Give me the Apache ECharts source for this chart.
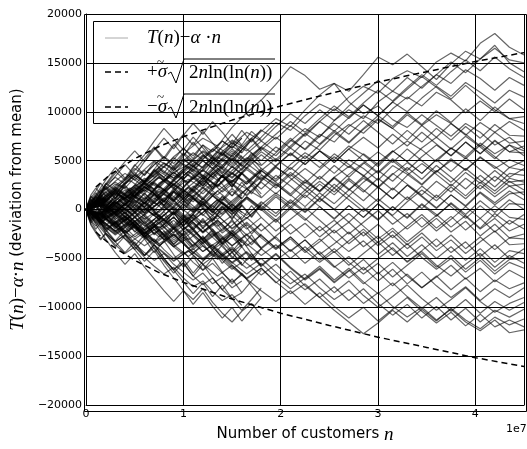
<!DOCTYPE html>
<html>
<head>
<meta charset="utf-8">
<script src="https://cdn.jsdelivr.net/npm/echarts@6/dist/echarts.min.js"></script>
<style>
  html, body { margin: 0; padding: 0; background: #fff; }
  #chart { width: 527px; height: 449px; }
</style>
</head>
<body>
<div id="chart"></div>
<script>
// n in units of 1e7 customers
const nLong = [0, 0.15, 0.3, 0.45, 0.6, 0.75, 0.9, 1.05, 1.2, 1.35, 1.5, 1.65, 1.8, 1.95, 2.1, 2.25,
  2.4, 2.55, 2.7, 2.85, 3.0, 3.15, 3.3, 3.45, 3.6, 3.75, 3.9, 4.05, 4.2, 4.35, 4.5]
const nShort = [0, 0.1, 0.2, 0.3, 0.4, 0.5, 0.6, 0.7, 0.8, 0.9, 1.0, 1.1, 1.2, 1.3, 1.4, 1.5, 1.6, 1.7, 1.8]
const nEarly = [0, 0.02, 0.05, 0.1, 0.15, 0.2, 0.3, 0.4, 0.5, 0.6, 0.7, 0.8, 0.9, 1.0, 1.1, 1.2, 1.3, 1.4, 1.5, 1.6]

// walk values in thousands
const longWalks = [
  [0, 1.2, 0.5, 2.1, 3.0, 2.2, 3.8, 4.6, 3.9, 5.5, 6.8, 6.0, 7.4, 8.9, 8.1, 9.6, 10.8, 10.1, 11.5, 12.6, 11.9, 13.4, 14.2, 13.5, 15.1, 16.0, 15.2, 17.0, 18.0, 16.6, 15.8],
  [0, -0.8, 0.6, 1.5, 0.9, 2.7, 3.5, 2.8, 4.4, 5.9, 5.1, 6.6, 8.0, 9.3, 8.5, 10.2, 11.7, 12.9, 12.1, 13.8, 15.6, 14.8, 15.9, 14.6, 13.3, 14.9, 16.2, 15.4, 16.8, 15.0, 14.1],
  [0, 1.4, 2.6, 1.9, 3.7, 5.0, 4.2, 6.1, 7.3, 6.5, 8.4, 9.9, 11.2, 12.8, 14.6, 13.7, 12.3, 12.9, 11.0, 9.8, 10.6, 9.2, 8.4, 9.7, 8.6, 7.5, 8.8, 7.9, 6.6, 7.4, 6.2],
  [0, 0.7, -0.4, 1.2, 2.0, 1.1, 2.6, 3.9, 3.1, 4.5, 3.6, 5.2, 6.4, 5.5, 7.0, 8.3, 7.4, 9.1, 10.2, 9.3, 11.0, 12.1, 11.3, 12.6, 13.8, 12.9, 14.3, 13.4, 12.2, 13.5, 12.7],
  [0, -1.0, -0.2, 0.9, -0.1, 1.6, 2.5, 1.7, 3.3, 2.4, 4.0, 5.3, 4.5, 5.8, 7.1, 6.2, 7.7, 6.9, 8.5, 9.6, 8.8, 10.3, 11.5, 10.6, 12.0, 11.2, 9.9, 11.1, 10.0, 11.3, 10.2],
  [0, 1.1, 0.3, 1.8, 3.2, 2.3, 4.0, 5.2, 4.3, 6.0, 7.1, 6.2, 5.0, 6.4, 5.5, 7.0, 6.1, 7.6, 8.7, 7.8, 9.2, 8.3, 7.1, 8.6, 9.7, 8.8, 7.6, 8.9, 7.9, 9.0, 8.1],
  [0, -0.6, 0.8, -0.3, 1.2, 0.4, 2.0, 3.1, 2.2, 3.6, 2.7, 1.5, 2.9, 4.3, 3.4, 4.9, 6.0, 5.1, 6.5, 5.6, 4.4, 5.9, 7.0, 6.1, 4.9, 6.3, 5.4, 6.8, 5.7, 6.6, 5.5],
  [0, 0.9, 2.0, 1.2, 2.8, 3.9, 3.0, 4.4, 3.5, 2.3, 3.7, 2.8, 4.2, 3.1, 4.6, 5.8, 4.9, 3.7, 5.1, 4.2, 3.0, 4.5, 3.6, 2.5, 3.9, 5.0, 4.1, 5.3, 4.4, 3.3, 4.2],
  [0, -1.2, -0.3, -1.6, -0.5, 0.8, -0.1, 1.4, 0.5, 1.9, 3.0, 2.1, 3.5, 2.6, 1.4, 2.8, 1.9, 3.3, 4.4, 3.5, 2.3, 3.7, 2.6, 1.5, 2.9, 1.8, 3.2, 2.1, 3.4, 2.4, 2.6],
  [0, 0.5, 1.7, 0.8, 2.3, 1.4, 0.2, 1.6, 0.7, -0.5, 0.9, 2.1, 1.2, 2.6, 1.5, 0.3, 1.7, 0.6, 2.0, 3.2, 2.3, 1.1, 2.5, 1.4, 0.2, 1.5, 0.4, 1.8, 0.7, 1.9, 1.0],
  [0, -0.7, 0.5, 1.6, 0.6, -0.6, 0.7, -0.4, -1.7, -0.6, -2.0, -0.9, 0.4, -0.7, 0.8, -0.3, 1.1, 0.0, -1.3, 0.1, -1.1, 0.3, -0.8, 0.6, -0.5, -1.8, -0.6, -1.9, -0.4, -1.5, -0.5],
  [0, 1.0, -0.1, 1.3, 0.2, -1.0, 0.3, -0.9, 0.5, -0.6, -1.9, -0.8, -2.2, -1.0, -2.5, -1.4, -2.8, -1.6, -0.4, -1.7, -3.0, -1.9, -3.3, -2.1, -0.9, -2.3, -1.2, -2.7, -1.5, -2.9, -2.5],
  [0, -1.1, -2.2, -1.3, -2.8, -1.7, -3.1, -2.0, -3.5, -2.4, -1.2, -2.6, -1.5, -3.0, -4.2, -3.1, -4.6, -3.5, -2.3, -3.8, -2.7, -4.1, -5.3, -4.2, -3.0, -4.4, -3.3, -4.8, -3.6, -5.0, -4.0],
  [0, 0.6, -0.5, -1.8, -0.7, -2.1, -3.3, -2.2, -3.7, -4.9, -3.8, -5.2, -4.0, -2.8, -4.3, -3.1, -4.6, -5.9, -4.8, -6.2, -5.0, -3.9, -5.4, -4.3, -5.7, -6.8, -5.6, -4.5, -5.9, -4.7, -5.5],
  [0, -0.9, 0.2, -1.1, -2.4, -1.3, -2.7, -1.6, -3.1, -4.3, -5.5, -4.4, -5.8, -4.6, -6.0, -7.2, -6.1, -7.5, -6.3, -5.1, -6.6, -5.4, -6.8, -8.0, -6.9, -5.7, -7.1, -6.0, -7.4, -6.2, -7.0],
  [0, -1.3, -0.4, -1.8, -3.0, -2.1, -3.6, -4.8, -3.7, -5.1, -4.0, -5.5, -6.7, -5.6, -7.0, -8.2, -7.1, -8.5, -7.3, -8.8, -10.0, -8.9, -7.7, -9.1, -10.3, -9.2, -8.0, -9.4, -10.5, -9.6, -9.0],
  [0, -0.5, -1.7, -0.8, -2.3, -3.5, -2.5, -4.0, -5.2, -4.3, -5.7, -7.0, -6.0, -7.4, -8.6, -7.6, -9.0, -10.3, -11.5, -12.7, -11.6, -10.3, -11.5, -10.2, -11.4, -10.1, -11.3, -12.2, -11.0, -11.8, -11.2],
  [0, 0.4, -0.8, -2.0, -1.1, -2.6, -3.8, -2.9, -4.3, -3.3, -4.8, -6.0, -5.0, -6.4, -7.6, -6.6, -8.0, -9.2, -8.2, -9.6, -8.5, -9.9, -11.0, -10.0, -11.3, -10.2, -11.5, -12.4, -11.3, -12.6, -12.3],
  [0, 0.8, -0.3, 1.0, 2.3, 1.3, 2.7, 1.6, 3.0, 4.2, 3.2, 4.6, 5.9, 4.9, 6.3, 5.2, 6.6, 7.9, 6.8, 8.2, 9.3, 8.3, 9.7, 8.6, 7.4, 8.8, 7.7, 6.5, 7.9, 6.8, 7.0],
  [0, -0.4, 0.9, 2.0, 1.0, 2.4, 1.3, 2.8, 4.0, 3.0, 4.4, 3.3, 2.1, 3.5, 2.4, 1.2, 2.6, 1.5, 3.0, 1.8, 3.2, 2.0, 3.5, 4.7, 3.6, 2.4, 3.8, 2.7, 4.0, 2.8, 3.0],
  [0, -1.0, 0.1, -1.2, -0.1, 1.1, 0.0, -1.4, -0.3, 1.0, -0.1, 1.3, 0.2, -1.1, 0.3, -0.9, -2.2, -1.1, -2.5, -1.3, -0.1, -1.5, -0.4, -1.8, -0.6, 0.6, -0.7, -2.0, -0.9, -2.2, -1.5],
  [0, 1.3, 2.4, 3.6, 2.6, 4.0, 5.3, 4.2, 5.6, 4.5, 3.3, 4.7, 3.6, 2.4, 3.8, 2.7, 4.1, 5.4, 4.3, 5.7, 4.6, 6.0, 4.9, 3.7, 5.1, 6.3, 5.2, 6.6, 5.4, 4.3, 5.0],
  [0, -0.6, -1.8, -0.7, -2.1, -1.0, 0.2, -1.1, -2.4, -1.3, -2.7, -1.5, -2.9, -4.1, -3.0, -4.4, -3.3, -2.1, -3.5, -2.3, -3.7, -2.6, -4.0, -2.8, -4.2, -3.1, -4.5, -3.3, -2.2, -3.6, -3.5],
  [0, 0.4, 1.6, 0.6, 2.1, 3.4, 2.5, 3.9, 5.2, 6.4, 5.4, 6.9, 8.1, 7.2, 8.6, 7.5, 9.0, 10.3, 9.3, 10.7, 9.6, 11.0, 10.0, 11.4, 12.6, 11.6, 13.0, 12.0, 10.9, 12.2, 11.5],
  [0, 0.7, -0.4, -1.6, -0.5, -1.9, -0.8, -2.2, -1.1, -2.5, -3.7, -2.6, -4.0, -5.2, -4.1, -5.5, -4.3, -5.8, -7.0, -5.9, -7.3, -6.1, -7.6, -6.4, -7.8, -9.0, -7.9, -9.3, -8.1, -9.0, -8.0],
  [0, -0.3, -1.5, -0.4, 0.8, -0.3, 1.1, 2.3, 1.2, 2.6, 1.4, 2.8, 4.0, 2.9, 4.3, 3.1, 1.9, 3.3, 2.1, 0.9, 2.3, 1.1, 2.5, 1.3, 0.1, 1.5, 0.3, 1.7, 0.5, 1.6, 1.8],
  [0, -1.2, -2.4, -1.4, -2.8, -4.0, -5.2, -4.2, -5.6, -4.5, -5.9, -7.1, -6.0, -7.5, -6.3, -7.8, -9.0, -7.9, -9.3, -8.1, -9.6, -10.8, -9.7, -11.1, -9.9, -11.3, -10.1, -11.5, -10.3, -11.0, -10.2],
  [0, 1.0, -0.1, 1.3, 2.6, 1.5, 2.9, 4.2, 3.1, 4.5, 5.8, 4.7, 6.1, 7.4, 6.3, 7.7, 9.0, 8.0, 9.4, 10.7, 9.6, 11.0, 12.3, 13.6, 12.5, 11.3, 12.7, 11.4, 10.2, 9.3, 8.8],
  [0, 0.9, 2.1, 1.3, 2.8, 4.1, 3.2, 4.7, 6.0, 5.1, 6.6, 7.9, 7.0, 8.5, 9.8, 8.8, 10.2, 9.1, 10.6, 11.9, 13.2, 12.1, 13.5, 12.4, 13.8, 15.1, 14.0, 15.4, 16.5, 15.3, 15.0],
  [0, -0.8, 0.4, -0.7, 0.6, 1.9, 0.8, 2.2, 1.0, 2.5, 3.7, 2.6, 4.0, 5.2, 4.1, 5.5, 4.3, 5.7, 4.6, 3.4, 4.8, 6.0, 4.9, 6.3, 7.4, 6.2, 7.5, 6.4, 5.2, 6.6, 6.0],
  [0, 1.1, 0.0, -1.2, 0.1, -1.0, 0.3, 1.6, 0.5, 1.9, 0.7, 2.1, 3.3, 2.2, 3.6, 2.4, 1.2, 2.6, 1.4, 2.8, 4.0, 2.9, 4.3, 3.1, 4.5, 3.3, 2.1, 3.5, 2.3, 3.7, 3.5],
  [0, -1.1, -2.3, -1.2, -2.6, -1.4, -0.2, -1.5, -0.3, 1.0, -0.1, 1.3, 0.1, 1.5, 0.3, 1.7, 2.9, 1.8, 3.2, 2.0, 0.8, 2.2, 1.0, 2.4, 1.2, 2.6, 1.4, 2.8, 1.6, 2.9, 2.0],
  [0, 0.6, 1.8, 3.0, 1.9, 3.3, 2.1, 0.9, 2.3, 1.1, -0.1, 1.2, 0.0, -1.3, 0.1, -1.1, 0.3, -1.0, 0.4, -0.8, 0.6, -0.7, -2.0, -0.8, -2.2, -1.0, 0.3, -0.9, 0.4, -0.8, -1.0],
  [0, -0.5, 0.7, -0.4, -1.7, -0.6, -2.0, -0.8, -2.3, -1.1, -2.5, -3.7, -2.6, -4.0, -2.8, -4.2, -5.4, -4.3, -5.7, -4.5, -3.3, -4.7, -3.5, -4.9, -6.1, -5.0, -6.4, -5.2, -6.6, -5.4, -6.0],
  [0, -1.0, -2.2, -3.4, -2.3, -3.7, -2.5, -3.9, -5.1, -4.0, -5.4, -6.6, -5.5, -6.9, -8.1, -7.0, -5.8, -7.2, -6.0, -7.4, -8.6, -7.5, -8.9, -10.1, -9.0, -10.4, -9.2, -10.6, -9.4, -10.3, -9.5],
  [0, 0.7, -0.5, 0.8, 2.1, 3.3, 2.2, 3.6, 2.4, 3.8, 2.6, 1.4, 2.8, 1.6, 3.0, 4.2, 3.1, 4.5, 3.3, 4.7, 5.9, 4.8, 6.2, 5.0, 3.8, 5.2, 4.0, 5.4, 4.2, 5.1, 4.5],
  [0, -0.9, 0.3, -0.8, -2.1, -1.0, -2.4, -1.2, 0.1, -1.0, 0.3, -0.9, 0.5, 1.7, 0.6, 2.0, 0.8, 2.2, 1.0, -0.2, 1.1, -0.1, 1.3, 0.1, 1.5, 0.3, -0.9, 0.4, -0.8, 0.6, 0.5],
  [0, -1.4, -2.6, -1.5, -2.9, -4.1, -5.3, -4.2, -5.6, -6.8, -5.7, -7.1, -8.3, -9.4, -8.3, -9.7, -8.5, -9.9, -11.1, -10.0, -11.4, -10.2, -9.0, -10.4, -11.6, -10.5, -11.9, -10.7, -12.0, -11.3, -12.0],
  [0, 1.3, 0.2, 1.6, 3.0, 4.3, 3.2, 4.6, 5.9, 4.8, 6.2, 5.0, 6.4, 7.7, 9.0, 7.9, 9.3, 10.6, 9.5, 10.9, 12.2, 11.1, 12.5, 13.8, 12.7, 14.1, 15.3, 14.2, 15.6, 14.4, 13.5],
  [0, -0.4, 0.9, 2.2, 1.1, 2.5, 3.8, 2.7, 4.1, 5.4, 4.3, 5.7, 7.0, 5.9, 7.3, 6.1, 7.5, 8.8, 7.7, 9.1, 7.9, 6.7, 8.1, 6.9, 8.3, 7.1, 8.5, 7.3, 8.7, 7.6, 7.5],
  [0, 0.8, 2.0, 1.1, 2.4, 3.6, 2.5, 1.3, 2.7, 1.5, 2.9, 4.1, 3.0, 4.4, 3.2, 2.0, 3.4, 2.2, 3.6, 4.8, 3.7, 5.0, 3.8, 2.6, 4.0, 2.8, 4.2, 3.0, 1.9, 3.2, 2.8],
  [0, -0.7, -1.9, -0.8, 0.4, -0.7, -2.0, -0.9, -2.3, -1.1, -2.5, -1.3, -2.7, -3.9, -2.8, -4.2, -3.0, -4.4, -3.2, -2.0, -3.4, -2.2, -3.6, -2.4, -3.8, -2.6, -4.0, -2.8, -4.1, -2.9, -3.0],
  [0, 1.0, 2.2, 3.4, 2.3, 3.7, 2.5, 3.9, 2.7, 4.1, 5.3, 4.2, 5.6, 4.4, 5.8, 4.6, 6.0, 4.8, 6.2, 7.4, 6.3, 7.7, 6.5, 7.9, 6.7, 5.5, 6.9, 5.7, 7.1, 5.9, 6.5],
  [0, -0.4, 0.8, -0.3, -1.6, -2.8, -1.7, -3.1, -1.9, -3.3, -2.1, -3.5, -4.7, -3.6, -5.0, -3.8, -5.2, -4.0, -5.4, -6.6, -5.5, -6.9, -5.7, -4.5, -5.9, -4.7, -6.1, -4.9, -6.3, -5.1, -5.0],
  [0, 0.5, -0.7, 0.6, -0.6, 0.7, 1.9, 0.8, 2.2, 1.0, -0.2, 1.1, -0.1, 1.3, 0.1, 1.5, 0.3, -0.9, 0.4, -0.8, 0.6, -0.6, 0.8, 2.0, 0.9, 2.3, 1.1, 2.5, 1.3, 2.4, 1.5],
  [0, -1.0, -2.2, -1.1, -2.5, -3.7, -2.6, -4.0, -2.8, -4.2, -5.4, -4.3, -5.7, -4.5, -5.9, -7.1, -6.0, -7.4, -6.2, -7.6, -6.4, -7.8, -6.6, -8.0, -6.8, -8.2, -7.0, -8.4, -7.2, -8.1, -7.5],
  [0, -0.6, 0.6, 1.8, 0.7, 2.1, 0.9, 2.3, 3.5, 2.4, 3.8, 2.6, 4.0, 2.8, 1.6, 3.0, 1.8, 3.2, 2.0, 3.4, 2.2, 3.6, 4.8, 3.7, 5.1, 3.9, 5.3, 4.1, 2.9, 4.3, 4.0],
  [0, 0.7, 1.9, 0.8, -0.4, 0.7, -0.6, 0.8, -0.5, -1.7, -0.6, -2.0, -0.8, -2.2, -1.0, 0.2, -1.1, -2.4, -1.3, -2.7, -1.5, -2.9, -1.7, -0.5, -1.9, -0.7, -2.1, -0.9, -2.3, -1.1, -2.0],
  [0, 1.2, 0.1, 1.5, 2.8, 1.7, 3.1, 4.4, 3.3, 4.7, 6.0, 4.9, 6.3, 5.1, 6.5, 7.8, 6.7, 8.1, 6.9, 8.3, 9.6, 8.5, 9.9, 8.7, 10.1, 8.9, 10.3, 9.1, 10.5, 9.3, 9.5],
  [0, -0.5, -1.7, -2.9, -1.8, -0.6, -1.7, -0.5, -1.9, -0.7, 0.5, -0.6, 0.8, -0.4, 1.0, -0.2, 1.2, 0.0, 1.4, 0.2, -1.0, 0.3, -0.9, 0.5, -0.7, 0.7, -0.5, 0.9, -0.3, 1.0, 0.0],
  [0, 0.4, -0.8, 0.5, -0.7, -1.9, -0.8, -2.2, -3.4, -2.3, -3.7, -2.5, -3.9, -2.7, -1.5, -2.9, -1.7, -3.1, -4.3, -3.2, -4.6, -3.4, -4.8, -3.6, -5.0, -3.8, -5.2, -4.0, -5.4, -4.2, -4.5],
  [0, 0.9, -0.3, 1.0, 2.3, 1.2, 2.6, 1.4, 2.8, 4.0, 2.9, 4.3, 3.1, 4.5, 5.7, 4.6, 6.0, 4.8, 6.2, 5.0, 3.8, 5.2, 4.0, 5.4, 6.6, 5.5, 6.9, 5.7, 7.0, 5.9, 5.8]
]

const shortWalks = [
  [0, 1.4, 2.6, 3.9, 3.0, 4.5, 5.6, 7.0, 8.3, 7.2, 6.1, 7.4, 6.3, 5.1, 6.5, 7.7, 6.6, 8.0, 7.1],
  [0, -1.3, -2.5, -3.8, -2.7, -4.1, -5.3, -4.2, -5.7, -7.0, -8.3, -9.2, -8.1, -9.5, -10.6, -11.5, -10.4, -9.6, -10.8],
  [0, 0.9, -0.2, 1.1, 2.4, 1.3, 2.7, 1.6, 0.4, 1.8, 0.7, 2.1, 1.0, 2.4, 3.5, 2.4, 3.8, 2.7, 1.6],
  [0, -0.8, 0.3, -1.0, -2.2, -1.1, -2.5, -1.4, -0.2, -1.6, -0.5, -1.9, -3.1, -2.0, -3.4, -2.3, -1.1, -2.5, -1.4],
  [0, 1.1, 2.3, 1.2, 2.6, 3.8, 2.7, 4.1, 5.4, 4.3, 5.7, 4.6, 3.4, 4.8, 3.7, 5.1, 4.0, 5.3, 4.2],
  [0, -1.0, 0.1, -1.2, -2.5, -3.7, -2.6, -4.0, -5.3, -6.5, -5.4, -6.8, -5.6, -7.0, -8.2, -7.1, -8.5, -7.3, -6.2],
  [0, 0.6, 1.8, 0.7, -0.5, 0.8, -0.4, 0.9, 2.1, 1.0, -0.2, 1.2, 0.1, -1.2, 0.2, -1.0, 0.4, -0.8, 0.5],
  [0, -0.5, -1.7, -0.6, 0.7, -0.4, 1.0, -0.2, -1.4, -0.3, -1.7, -0.5, 0.8, -0.4, 1.0, 2.2, 1.1, 2.5, 1.3],
  [0, 1.2, 0.1, 1.5, 2.8, 4.0, 5.2, 6.4, 5.3, 6.7, 5.5, 6.9, 5.7, 4.5, 5.9, 4.7, 6.1, 7.3, 6.2],
  [0, -1.4, -0.3, -1.7, -3.0, -4.1, -3.0, -4.4, -3.2, -4.6, -5.9, -4.8, -6.2, -5.0, -6.4, -7.6, -6.5, -7.8, -9.0],
  [0, 0.4, -0.8, -2.0, -0.9, -2.3, -1.2, -2.6, -1.5, -0.3, -1.7, -0.5, -1.9, -0.8, -2.2, -1.0, -2.4, -3.6, -2.5],
  [0, 1.0, 2.2, 3.4, 4.6, 3.5, 4.9, 6.1, 7.3, 6.2, 7.6, 8.8, 7.7, 9.0, 7.9, 6.7, 8.1, 6.9, 8.2],
  [0, -0.9, -2.1, -3.3, -4.4, -3.3, -4.7, -3.6, -5.0, -6.2, -7.4, -8.6, -7.5, -8.9, -7.7, -9.1, -10.3, -9.2, -8.0],
  [0, 0.8, -0.3, 1.0, -0.1, 1.3, 0.2, 1.6, 0.4, 1.8, 3.0, 1.9, 3.3, 2.1, 3.5, 2.3, 3.7, 4.9, 3.8],
  [0, -0.6, 0.6, -0.5, -1.8, -0.7, -2.1, -3.3, -2.2, -3.6, -2.4, -3.8, -2.7, -4.1, -2.9, -4.3, -3.1, -4.5, -5.7],
  [0, 1.3, 0.2, 1.5, 0.4, 1.8, 0.6, 2.0, 0.8, 2.2, 1.0, -0.2, 1.2, 0.0, 1.4, 0.2, -1.0, 0.4, -0.8],
  [0, -1.1, -2.3, -1.2, -2.6, -1.5, -2.9, -1.7, -0.5, -1.9, -0.7, -2.1, -0.9, -2.3, -3.5, -2.4, -3.8, -2.6, -4.0],
  [0, 1.5, 3.0, 4.3, 3.2, 4.6, 3.5, 4.9, 3.7, 5.1, 6.3, 5.2, 6.6, 5.4, 4.2, 5.6, 4.4, 5.8, 4.6],
  [0, -0.7, -2.0, -3.2, -2.1, -3.5, -4.7, -3.6, -5.0, -6.2, -5.1, -6.5, -5.3, -4.1, -5.5, -4.3, -5.7, -4.5, -5.9],
  [0, 0.3, 1.5, 0.4, -0.8, 0.5, 1.7, 0.6, 2.0, 0.9, 2.3, 3.5, 2.4, 3.8, 2.6, 1.4, 2.8, 1.6, 3.0],
  [0, -1.5, -3.0, -4.4, -5.6, -4.5, -5.9, -7.1, -8.3, -9.4, -8.3, -9.7, -8.5, -9.9, -11.1, -10.0, -11.4, -10.2, -9.0],
  [0, 0.9, 2.2, 1.1, 2.5, 1.4, 2.8, 4.0, 2.9, 4.3, 3.1, 4.5, 3.3, 2.1, 3.5, 2.3, 3.7, 2.5, 3.9],
  [0, -0.4, 0.8, 2.0, 0.9, -0.3, -1.5, -0.4, -1.8, -0.7, -2.1, -1.0, 0.2, -1.1, 0.3, -0.9, 0.5, -0.7, 0.7],
  [0, 1.2, 2.5, 3.7, 4.9, 6.0, 4.9, 6.3, 5.1, 6.5, 7.7, 6.6, 8.0, 6.8, 5.6, 7.0, 5.8, 7.2, 6.0],
  [0, -1.2, -0.1, -1.4, -0.2, -1.6, -2.8, -1.7, -3.1, -1.9, -3.3, -4.5, -3.4, -4.8, -3.6, -5.0, -3.8, -5.2, -4.0]
]

const earlyWalks = [
  [0, 0.6, 1.4, 0.9, 1.7, 2.4, 1.5, 2.7, 3.6, 2.9, 4.1, 3.3, 4.5, 5.2, 4.4, 5.5, 4.7, 5.8, 5.0, 6.1],
  [0, -0.5, -1.2, -2.0, -1.3, -2.4, -3.3, -2.6, -3.8, -4.7, -3.9, -5.2, -6.1, -5.5, -6.8, -7.7, -7.0, -8.2, -9.1, -8.5],
  [0, 0.3, -0.2, 0.6, 1.4, 0.7, 1.8, 1.1, 2.2, 1.4, 0.3, 1.2, 0.4, 1.5, 0.8, 1.9, 2.7, 1.8, 2.6, 1.6],
  [0, -0.4, 0.2, -0.5, -1.3, -0.6, -1.5, -2.4, -1.7, -2.8, -2.0, -3.1, -2.3, -1.2, -2.1, -3.0, -2.2, -3.3, -2.6, -3.7],
  [0, 0.7, 1.5, 2.2, 1.6, 2.7, 2.0, 3.1, 4.2, 3.5, 4.6, 5.4, 4.7, 5.8, 5.0, 4.2, 5.3, 4.5, 5.6, 6.6],
  [0, -0.6, -1.4, -0.7, -1.6, -0.9, -0.2, -1.1, -0.3, -1.4, -2.5, -1.8, -2.9, -2.1, -3.3, -4.3, -3.6, -4.7, -4.0, -5.1],
  [0, 0.2, 0.9, 1.7, 1.0, 0.3, 1.2, 2.0, 1.3, 2.4, 1.6, 0.8, 1.9, 1.1, 2.2, 3.0, 2.3, 3.4, 2.7, 3.7],
  [0, -0.3, -0.9, -0.2, 0.6, -0.1, -1.0, -0.3, -1.3, -2.2, -1.5, -2.6, -3.5, -2.8, -3.9, -3.1, -4.2, -5.1, -4.4, -5.5],
  [0, 0.5, 0.1, 0.8, 0.2, 1.1, 0.4, -0.4, 0.5, -0.3, 0.8, 1.6, 0.9, 2.0, 1.2, 0.3, 1.4, 0.6, -0.3, 0.7],
  [0, -0.7, -1.6, -2.4, -3.1, -2.5, -3.6, -4.5, -3.8, -4.9, -5.8, -6.6, -5.9, -7.0, -7.9, -7.3, -8.4, -9.3, -8.7, -9.8],
  [0, 0.4, 1.1, 0.5, 1.3, 2.1, 2.8, 2.2, 3.3, 4.1, 5.0, 4.3, 5.4, 6.2, 5.5, 6.6, 5.9, 7.0, 6.3, 7.3],
  [0, -0.2, 0.4, -0.3, -1.1, -0.4, 0.5, -0.2, 0.9, 0.2, -0.6, 0.3, -0.5, 0.6, -0.2, 0.9, 0.1, 1.1, 0.3, 1.3],
  [0, 0.6, 0.1, -0.6, 0.2, -0.5, -1.3, -0.7, -1.6, -0.9, -1.8, -1.0, -1.9, -2.7, -2.0, -3.1, -2.4, -3.5, -2.8, -2.0],
  [0, -0.5, 0.1, 0.9, 0.3, 1.2, 0.6, 1.5, 2.3, 1.6, 2.7, 1.9, 3.0, 2.2, 3.3, 2.5, 3.6, 4.4, 3.7, 4.8],
  [0, 0.3, 1.0, 0.4, 1.2, 0.5, -0.3, 0.6, -0.2, -1.0, -0.3, -1.2, -0.4, -1.3, -0.5, -1.4, -0.6, 0.3, -0.5, 0.4],
  [0, -0.6, -0.1, -0.8, -0.1, -0.9, -1.6, -1.0, -1.8, -2.6, -3.3, -2.7, -3.8, -3.0, -4.1, -3.3, -2.5, -3.6, -2.8, -3.9],
  [0, 0.5, 1.2, 1.9, 2.7, 2.0, 2.9, 3.7, 3.0, 4.0, 3.3, 4.4, 3.6, 4.7, 3.9, 5.0, 4.2, 3.3, 4.4, 3.6],
  [0, -0.3, -1.0, -0.4, -1.2, -2.0, -1.3, -2.2, -3.0, -3.7, -3.0, -4.1, -5.0, -4.3, -5.4, -6.2, -5.5, -6.5, -7.4, -6.7],
  [0, 0.2, -0.4, 0.3, -0.5, 0.2, -0.6, 0.1, 1.0, 0.3, 1.2, 0.4, 1.3, 0.5, -0.3, 0.6, -0.2, 0.8, 0.0, 1.0],
  [0, -0.4, -1.1, -1.7, -1.0, -1.8, -2.5, -1.8, -2.8, -2.0, -1.0, -1.9, -1.1, -2.1, -1.3, -2.3, -1.4, -2.4, -1.6, -0.7],
  [0, 0.6, 1.3, 0.8, 1.6, 2.5, 3.3, 2.6, 3.5, 2.8, 3.9, 4.8, 4.1, 5.1, 4.4, 5.4, 6.2, 5.5, 6.5, 5.8],
  [0, -0.5, 0.0, -0.7, 0.0, -0.8, -0.1, -1.0, -0.2, 0.7, -0.1, 0.9, 0.1, -0.8, 0.2, -0.6, 0.4, -0.5, 0.6, -0.3],
  [0, 0.4, -0.1, 0.5, -0.2, -0.9, -1.5, -0.8, -1.7, -2.5, -1.8, -2.8, -2.0, -3.0, -2.2, -3.2, -4.1, -3.4, -4.4, -3.6],
  [0, -0.7, -1.5, -2.2, -3.0, -2.4, -3.3, -2.6, -3.5, -4.4, -5.2, -4.5, -5.6, -6.4, -7.2, -6.5, -7.6, -6.9, -8.0, -7.3],
  [0, 0.3, 0.8, 1.4, 0.7, 1.5, 2.3, 1.6, 2.5, 1.8, 2.8, 2.0, 3.0, 3.9, 3.1, 4.1, 3.3, 4.3, 5.2, 4.5],
  [0, -0.2, 0.5, -0.1, 0.7, 0.0, 0.8, 0.1, -0.7, 0.2, -0.6, 0.4, -0.4, 0.6, 1.5, 0.7, 1.7, 0.9, 1.9, 1.1],
  [0, 0.6, 0.0, 0.8, 1.5, 0.9, 1.7, 1.0, 1.9, 2.7, 2.0, 3.0, 3.8, 3.1, 4.1, 5.0, 4.2, 5.2, 4.5, 5.5],
  [0, -0.6, -1.2, -0.5, -1.3, -2.1, -1.4, -2.3, -1.5, -2.5, -1.7, -2.7, -1.9, -1.0, -2.0, -1.2, -2.2, -3.1, -2.4, -3.4],
  [0, 0.3, -0.3, -0.9, -0.2, -1.0, -0.3, 0.5, -0.2, 0.7, -0.1, -1.0, -0.2, -1.1, -0.3, 0.6, -0.3, 0.7, -0.2, -1.1],
  [0, -0.4, 0.2, 0.9, 1.6, 1.0, 1.8, 1.1, 2.0, 2.8, 2.1, 3.1, 2.3, 1.4, 2.4, 1.6, 2.6, 3.5, 2.8, 3.8],
  [0, 0.5, -0.1, -0.8, -1.5, -0.9, -1.7, -2.4, -1.8, -2.7, -3.5, -2.8, -3.8, -4.6, -4.0, -5.0, -4.2, -5.2, -6.1, -5.4],
  [0, -0.3, 0.3, 1.0, 0.4, 1.2, 2.0, 2.7, 3.5, 2.8, 3.8, 4.7, 4.0, 5.0, 5.8, 5.1, 6.2, 7.0, 6.3, 7.3],
  [0, 0.4, 1.0, 0.3, 1.1, 0.4, 1.2, 0.5, 1.4, 0.6, 1.6, 0.8, 1.8, 1.0, 0.1, 1.1, 0.3, 1.3, 0.5, 1.5],
  [0, -0.5, -1.1, -0.4, -1.2, -0.5, -1.4, -0.6, -1.5, -2.4, -1.6, -2.6, -1.8, -2.8, -3.7, -2.9, -3.9, -3.1, -2.2, -3.2],
  [0, 0.2, 0.7, 1.3, 2.0, 1.4, 2.2, 1.5, 0.7, 1.6, 0.8, -0.1, 0.9, 0.1, 1.1, 0.3, -0.6, 0.4, -0.5, 0.5]
]

// dashed envelope
const nBound = [0.1, 0.25, 0.5, 0.75, 1.0, 1.5, 2.0, 2.5, 3.0, 3.5, 4.0, 4.5]
const boundUpper = [2300, 3600, 5200, 6450, 7450, 9150, 10600, 11850, 13050, 14100, 15150, 16050]
const boundLower = [-2300, -3600, -5200, -6450, -7450, -9150, -10600, -11850, -13050, -14100, -15150, -16050]

const yTicks = [-20000, -15000, -10000, -5000, 0, 5000, 10000, 15000, 20000]

const WALK_UNIT = 1000
const walkColor = 'rgba(0,0,0,0.6)'
const mathFont = 'Liberation Serif'

function walkSeries(ns, vals) {
  return {
    type: 'line',
    data: vals.map((v, i) => [ns[i], v * WALK_UNIT]),
    showSymbol: false,
    silent: true,
    lineStyle: { color: walkColor, width: 1.2 },
    z: 2,
  }
}

function boundSeries(vals) {
  return {
    type: 'line',
    data: vals.map((v, i) => [nBound[i], v]),
    showSymbol: false,
    silent: true,
    lineStyle: { color: '#000', width: 1.5, type: [6, 4] },
    z: 3,
  }
}

const mathRich = {
  m: { fontFamily: mathFont, fontStyle: 'italic', fontSize: 19, color: '#000' },
  u: { fontFamily: mathFont, fontSize: 19, color: '#000' },
  s: { fontFamily: 'DejaVu Sans', fontSize: 15, color: '#000' },
}

function legendRow(y, sampleDash, pieces, sqrtPieces) {
  const els = [{
    type: 'line',
    shape: { x1: 105, y1: y, x2: 128, y2: y },
    style: sampleDash
      ? { stroke: '#000', lineWidth: 1.5, lineDash: [6, 4] }
      : { stroke: '#aaa', lineWidth: 1 },
  }, {
    type: 'text',
    x: 147, y: y,
    style: { text: pieces, rich: mathRich, verticalAlign: 'middle' },
  }]
  if (sqrtPieces) {
    els.push({
      type: 'text',
      x: 157, y: y - 9,
      style: { text: '~', fontFamily: mathFont, fontSize: 13, fill: '#000', verticalAlign: 'middle' },
    })
    els.push({
      type: 'polyline',
      shape: { points: [[168, y + 2], [171, y], [176, y + 11], [184, y - 13], [275, y - 13]] },
      style: { stroke: '#000', lineWidth: 1, fill: null },
    })
    els.push({
      type: 'text',
      x: 189, y: y + 1,
      style: { text: sqrtPieces, rich: mathRich, verticalAlign: 'middle' },
    })
  }
  return els
}

const chart = echarts.init(document.getElementById('chart'))

const series = []
longWalks.forEach(w => series.push(walkSeries(nLong, w)))
shortWalks.forEach(w => series.push(walkSeries(nShort, w)))
earlyWalks.forEach(w => series.push(walkSeries(nEarly, w)))
series.push(boundSeries(boundUpper))
series.push(boundSeries(boundLower))

chart.setOption({
  animation: false,
  backgroundColor: '#fff',
  grid: { left: 84, right: 1, top: 14, bottom: 38 },
  xAxis: {
    type: 'value',
    min: 0, max: 4.5, interval: 1,
    name: '{s|Number of customers }{m|n}',
    nameLocation: 'middle',
    nameGap: 19,
    nameTextStyle: { rich: mathRich },
    axisLine: { show: true, onZero: false, lineStyle: { color: '#000', width: 1 } },
    axisTick: { show: true, inside: true, length: 4, lineStyle: { color: '#000' } },
    axisLabel: { color: '#000', fontFamily: 'DejaVu Sans', fontSize: 11, margin: 4,
      formatter: v => (v % 1 === 0 ? String(v) : '') },
    splitLine: { show: true, lineStyle: { color: '#000', width: 1 } },
  },
  yAxis: {
    type: 'value',
    min: yTicks[0], max: yTicks[yTicks.length - 1], interval: 5000,
    name: '{m|T}{u|(}{m|n}{u|)−}{m|α}{u|·}{m|n}{s| (deviation from mean)}',
    nameLocation: 'middle',
    nameGap: 58,
    nameRotate: 90,
    nameTextStyle: { rich: mathRich },
    axisLine: { show: true, onZero: false, lineStyle: { color: '#000', width: 1 } },
    axisTick: { show: true, inside: true, length: 4, lineStyle: { color: '#000' } },
    axisLabel: { color: '#000', fontFamily: 'DejaVu Sans', fontSize: 11, margin: 4,
      formatter: v => String(v).replace('-', '\u2212') },
    splitLine: { show: true, lineStyle: { color: '#000', width: 1 } },
  },
  series: series,
  graphic: [
    {
      type: 'rect',
      shape: { x: 0, y: 0, width: 442, height: 397 },
      x: 84.5, y: 14.5,
      style: { fill: null, stroke: '#000', lineWidth: 1 },
      z: 50,
    },
    {
      type: 'group',
      z: 100,
      children: [
        {
          type: 'rect',
          shape: { x: 93.5, y: 21.5, width: 187, height: 102 },
          style: { fill: '#fff', stroke: '#000', lineWidth: 1 },
        },
        ...legendRow(38, false, '{m|T}{u|(}{m|n}{u|)−}{m|α}{u| ·}{m|n}'),
        ...legendRow(72, true, '{u|+}{m|σ}', '{u|2}{m|n}{u|ln(ln(}{m|n}{u|))}'),
        ...legendRow(107, true, '{u|−}{m|σ}', '{u|2}{m|n}{u|ln(ln(}{m|n}{u|))}'),
      ],
    },
    {
      type: 'text',
      x: 506, y: 424,
      style: { text: '1e7', fontFamily: 'DejaVu Sans', fontSize: 11, fill: '#000' },
    },
  ],
})
</script>
</body>
</html>
